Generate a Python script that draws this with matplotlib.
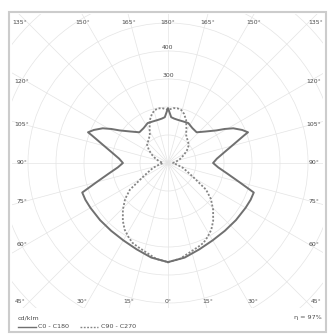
import numpy as np
import matplotlib
matplotlib.use("Agg")
import matplotlib.pyplot as plt
from matplotlib.patches import Circle, Rectangle
from matplotlib.lines import Line2D

# luminous intensity, cd/klm, gamma measured from nadir (0 = down, 180 = up)
gamma_c0 = [0, 10, 20, 30, 40, 50, 60, 66, 71, 75, 80, 85, 90, 95, 100, 105,
            110, 111, 114, 118, 121, 124, 130, 137, 145, 153, 160, 167, 172, 176, 180]
cd_c0 = [354, 343, 328, 319, 316, 317, 320, 323, 324, 264, 214, 180, 161, 175, 200, 236,
         290, 306, 290, 264, 236, 208, 175, 150, 152, 160, 158, 158, 160, 164, 196]

gamma_c90 = [0, 7, 13, 20, 24, 28, 33, 38, 44, 50, 55, 61, 66, 72, 80, 90, 100, 108,
             117, 124, 131, 140, 147, 152, 157, 162, 166, 170, 174, 178, 180]
cd_c90 = [354, 345, 330, 318, 312, 300, 284, 262, 232, 200, 166, 102, 75, 56, 32, 18, 30, 45,
          64, 82, 99, 108, 119, 140, 166, 185, 195, 198, 197, 192, 190]

ring_values = [100, 200, 300, 400, 500, 600, 700, 800]
ring_labels = ["400", "300"]
label_angles = [0, 15, 30, 45, 60, 75, 90, 105, 120, 135, 150, 165, 180]
efficiency = "η = 97%"
legend_names = ["C0 - C180", "C90 - C270"]

W, H = 328, 336
fig = plt.figure(figsize=(W / 100, H / 100), dpi=100)
fig.patch.set_facecolor("white")

# axes placed so the pole sits at pixel (168, 163), 0.28 px per cd/klm
px = 0.28
cx, cy = 168, 163
left, right, top, bottom = 12, 323, 14, 308
ax = fig.add_axes([left / W, 1 - bottom / H, (right - left) / W, (bottom - top) / H])
ax.set_xlim((left - cx) / px, (right - cx) / px)
ax.set_ylim(-(bottom - cy) / px, (cy - top) / px)
ax.axis("off")

grid_col = "#e4e4e4"
for r in ring_values:
    ax.add_patch(Circle((0, 0), r, fill=False, ec=grid_col, lw=0.5))
for a in range(0, 360, 15):
    t = np.radians(a)
    ax.plot([0, 1200 * np.sin(t)], [0, -1200 * np.cos(t)], color=grid_col, lw=0.5)


def to_xy(g, v, side):
    g = np.radians(np.asarray(g, float))
    v = np.asarray(v, float)
    return side * v * np.sin(g), -v * np.cos(g)


def closed(g, v):
    xr, yr = to_xy(g, v, 1)
    xl, yl = to_xy(g, v, -1)
    return np.r_[xr, xl[::-1]], np.r_[yr, yl[::-1]]


x0, y0 = closed(gamma_c0, cd_c0)
x9, y9 = closed(gamma_c90, cd_c90)
ax.plot(x9, y9, color="#858585", lw=1.3, ls=(0, (1.1, 1.0)))
ax.plot(x0, y0, color="#707070", lw=1.4, solid_joinstyle="round")

# angle labels around the square
txt = dict(fontsize=4.4, color="#4a4a4a", ha="center", va="center")
hx, hy_b, hy_t, hs = 529, 493, 500, 507
for a in label_angles:
    lab = f"{a}°"
    if a <= 45:
        for s in ([1] if a == 0 else [1, -1]):
            ax.text(s * hx * np.tan(np.radians(a)), -hy_b, lab, **txt)
    if 45 < a < 135:
        y = -hs / np.tan(np.radians(a)) if a != 90 else 0
        for s in [1, -1]:
            ax.text(s * 521, y, lab, **txt)
    if a >= 135:
        for s in ([1] if a == 180 else [1, -1]):
            ax.text(s * hx * np.tan(np.radians(180 - a)), hy_t, lab, **txt)

for lab, r in zip(ring_labels, [414, 314]):
    ax.text(0, r, lab, fontsize=4.4, color="#4a4a4a", ha="center", va="center",
            bbox=dict(fc="white", ec="none", pad=0.6))

# bottom text and legend
ft = dict(fontsize=4.6, color="#4a4a4a", va="center")
fig.text(18 / W, 1 - 318 / H, "cd/klm", ha="left", **ft)
fig.text(322 / W, 1 - 318 / H, efficiency, ha="right", **ft)
fig.add_artist(Line2D([18 / W, 36 / W], [1 - 327 / H] * 2, color="#707070", lw=1.0))
fig.text(38 / W, 1 - 327 / H, legend_names[0], ha="left", **ft)
fig.add_artist(Line2D([80 / W, 98 / W], [1 - 327 / H] * 2, color="#858585", lw=1.0,
                      ls=(0, (1.3, 1.1))))
fig.text(101 / W, 1 - 327 / H, legend_names[1], ha="left", **ft)

fig.add_artist(Rectangle((9 / W, 1 - 332 / H), 317 / W, 320 / H, fill=False,
                         ec="#cccccc", lw=1.5, transform=fig.transFigure))

fig.savefig("out.png", dpi=100, facecolor="white")
